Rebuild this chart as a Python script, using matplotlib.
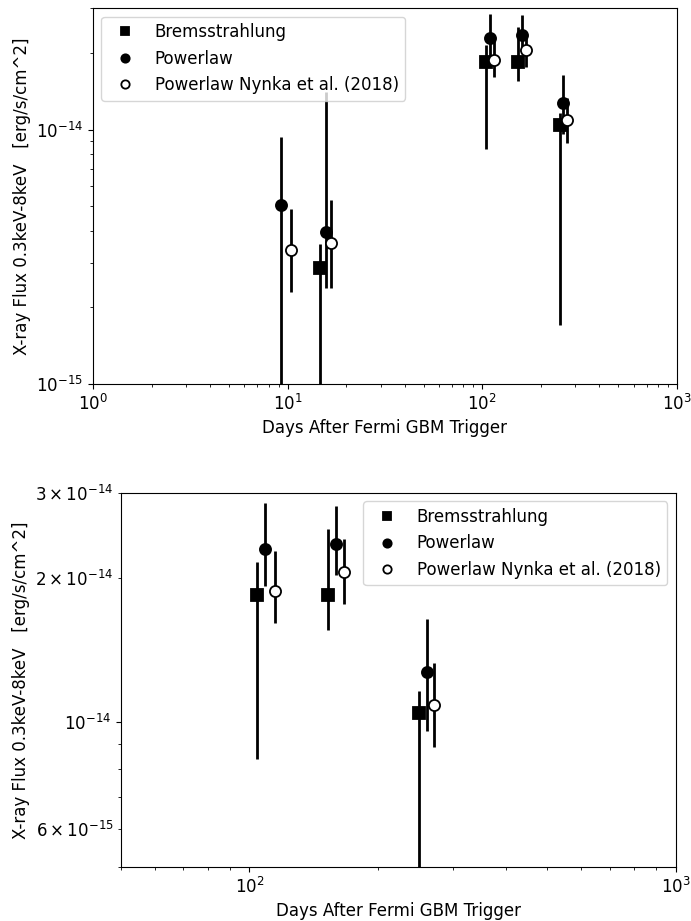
import matplotlib.pyplot as plt
from matplotlib.ticker import NullFormatter
import numpy as np

plt.rcParams['font.size'] = 12

# Datos (dias, flujo y limites de la barra de error)
t_brems = [14.7, 104, 153, 250]
f_brems = [2.87e-15, 1.845e-14, 1.845e-14, 1.046e-14]
hi_brems = [3.56e-15, 2.16e-14, 2.53e-14, 1.16e-14]
lo_brems = [5e-16, 8.4e-15, 1.56e-14, 1.7e-15]

t_pow = [9.25, 15.8, 109, 160, 261]
f_pow = [5.05e-15, 3.97e-15, 2.29e-14, 2.35e-14, 1.27e-14]
hi_pow = [9.36e-15, 1.4e-14, 2.86e-14, 2.82e-14, 1.64e-14]
lo_pow = [5e-16, 2.39e-15, 1.92e-14, 2.03e-14, 9.6e-15]

t_nyn = [10.4, 16.8, 115, 167, 271]
f_nyn = [3.38e-15, 3.57e-15, 1.88e-14, 2.06e-14, 1.088e-14]
hi_nyn = [4.89e-15, 5.27e-15, 2.27e-14, 2.41e-14, 1.33e-14]
lo_nyn = [2.3e-15, 2.39e-15, 1.61e-14, 1.76e-14, 8.9e-15]

series = [
    (t_brems, f_brems, hi_brems, lo_brems, 's', 'k', 'Bremsstrahlung'),
    (t_pow, f_pow, hi_pow, lo_pow, 'o', 'k', 'Powerlaw'),
    (t_nyn, f_nyn, hi_nyn, lo_nyn, 'o', 'w', 'Powerlaw Nynka et al. (2018)'),
]


def draw(ax, xlim, ylim, legend_loc):
    for t, f, hi, lo, mk, fc, lab in series:
        f = np.array(f)
        err = [f - np.array(lo), np.array(hi) - f]
        ax.errorbar(t, f, yerr=err, fmt='none', ecolor='k', elinewidth=2)
        ax.plot(t, f, mk, color='k', mfc=fc, mec='k', mew=1.3, ms=8, label=lab)
    ax.set_xscale('log')
    ax.set_yscale('log')
    ax.set_xlim(*xlim)
    ax.set_ylim(*ylim)
    ax.xaxis.set_minor_formatter(NullFormatter())
    ax.set_xlabel('Days After Fermi GBM Trigger')
    ax.set_ylabel('X-ray Flux 0.3keV-8keV   [erg/s/cm^2]')
    ax.legend(loc=legend_loc, markerscale=0.75)


fig = plt.figure(figsize=(6.91, 9.21), dpi=100)

ax1 = fig.add_axes([0.1346, 0.583, 0.845, 0.408])
draw(ax1, (1, 1000), (1e-15, 3e-14), 'upper left')
ax1.yaxis.set_minor_formatter(NullFormatter())

ax2 = fig.add_axes([0.175, 0.0586, 0.803, 0.406])
draw(ax2, (50, 1000), (5e-15, 3e-14), 'upper right')

plt.savefig('out.png', dpi=100)
